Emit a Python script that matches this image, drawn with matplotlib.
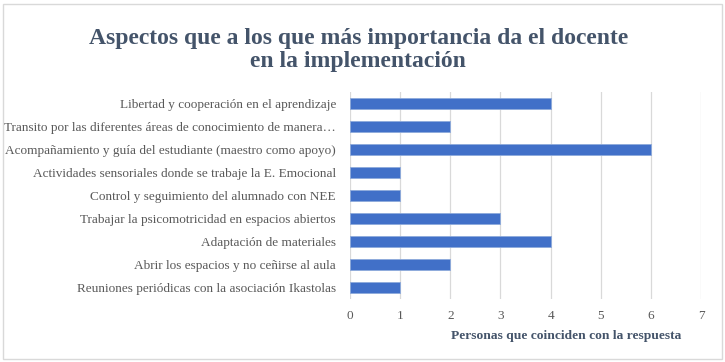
import matplotlib.pyplot as plt
from matplotlib.patches import Rectangle

plt.rcParams["font.family"] = ["Liberation Serif", "DejaVu Serif"]

# categories listed bottom to top (as drawn on the y axis)
categories = [
    "Reuniones periódicas con la asociación Ikastolas",
    "Abrir los espacios y no ceñirse al aula",
    "Adaptación de materiales",
    "Trabajar la psicomotricidad en espacios abiertos",
    "Control y seguimiento del alumnado con NEE",
    "Actividades sensoriales donde se trabaje la E. Emocional",
    "Acompañamiento y guía del estudiante (maestro como apoyo)",
    "Transito por las diferentes áreas de conocimiento de manera…",
    "Libertad y cooperación en el aprendizaje",
]
personas = [1, 2, 4, 3, 1, 1, 6, 2, 4]
xticks = [0, 1, 2, 3, 4, 5, 6, 7]

TITLE_C = "#44546A"
TICK_C = "#595959"

fig = plt.figure(figsize=(7.25, 3.62), dpi=100)
ax = fig.add_axes([350 / 725, 1 - 299 / 362, 351 / 725, 207 / 362])

ys = list(range(len(categories)))
ax.barh(ys, personas, height=0.5, color="#4170C8", edgecolor="#8EAADB",
        linewidth=0.6, zorder=3)

ax.set_xlim(0, 7)
ax.set_ylim(-0.5, len(categories) - 0.5)
ax.set_xticks(xticks)
ax.set_yticks(ys)
ax.set_yticklabels(categories)
ax.tick_params(axis="both", length=0, colors=TICK_C, labelsize=9.5)
ax.tick_params(axis="x", pad=8)
ax.tick_params(axis="y", pad=10)
ax.grid(True, axis="x", color="#D9D9D9", linewidth=0.9, zorder=0)
for s in ax.spines.values():
    s.set_visible(False)

ax.set_xlabel("Personas que coinciden con la respuesta", fontsize=9.7,
              fontweight="bold", color=TITLE_C)
ax.xaxis.set_label_coords((566 - 350) / 351, -0.15)

fig.text(0.494, 1 - 50 / 362,
         "Aspectos que a los que más importancia da el docente\nen la implementación",
         ha="center", va="center", fontsize=17, fontweight="bold",
         color=TITLE_C, linespacing=1.15)

fig.patches.append(Rectangle((3 / 725, 3 / 362), 719 / 725, 355 / 362,
                             transform=fig.transFigure, fill=False,
                             edgecolor="#D9D9D9", linewidth=1))

fig.savefig("out.png", dpi=100)
